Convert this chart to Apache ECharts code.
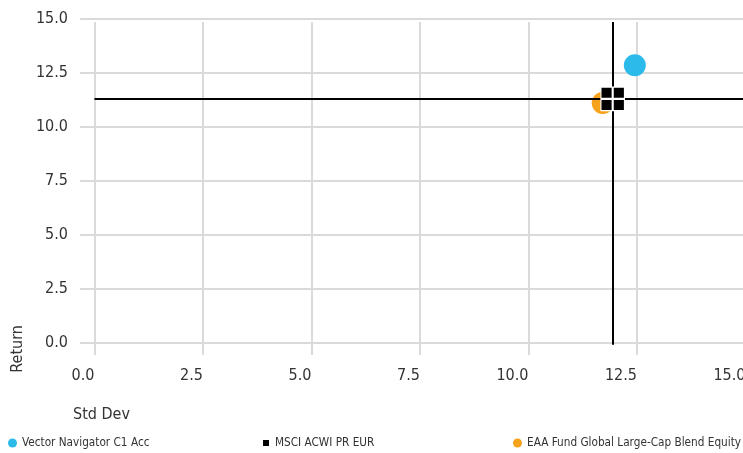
<!DOCTYPE html>
<html>
<head>
<meta charset="utf-8">
<script src="https://cdn.jsdelivr.net/npm/echarts@6/dist/echarts.min.js"></script>
<style>
html,body{margin:0;padding:0;background:#fff;}
#chart{width:743px;height:453px;}
</style>
</head>
<body>
<div id="chart"></div>
<script>
const seriesNames = ['Vector Navigator C1 Acc', 'MSCI ACWI PR EUR', 'EAA Fund Global Large-Cap Blend Equity'];
const stdDev = [12.45, 11.94, 11.71];
const returns = [12.86, 11.30, 11.11];
const seriesColors = ['#2BBAEA', '#000000', '#F7A21B'];
const xTickValues = [0, 2.5, 5, 7.5, 10, 12.5, 15];
const yTickValues = [0, 2.5, 5, 7.5, 10, 12.5, 15];

const FONT = '"DejaVu Sans Condensed", "Liberation Sans Narrow", sans-serif';
const TXT = '#333333';
const GRIDC = '#dadada';

const chart = echarts.init(document.getElementById('chart'), null, {renderer: 'canvas'});

const benchSymbol = 'path://M0,0H11V11H0Z M12,0H23V11H12Z M0,12H11V23H0Z M12,12H23V23H12Z';

const option = {
  backgroundColor: '#fff',
  animation: false,
  textStyle: {fontFamily: FONT},
  grid: {left: 80, right: -2.5, top: 19, bottom: 98, containLabel: false, outerBoundsMode: 'none'},
  xAxis: {
    type: 'value', min: -0.334, max: 15,
    name: 'Std Dev', nameLocation: 'start', nameGap: 7,
    nameTextStyle: {color: TXT, fontSize: 16, fontFamily: FONT, align: 'left', verticalAlign: 'top', padding: [52, 0, 0, 0]},
    axisLine: {show: false, onZero: false},
    axisTick: {show: true, inside: true, length: 333, customValues: xTickValues, lineStyle: {color: GRIDC, width: 2}},
    splitLine: {show: false},
    axisLabel: {color: TXT, fontSize: 16, fontFamily: FONT, margin: 13, align: 'right', customValues: xTickValues,
      formatter: v => v.toFixed(1)}
  },
  yAxis: {
    type: 'value', min: -0.570, max: 15,
    name: 'Return', nameLocation: 'start', nameGap: -30, nameRotate: 90,
    nameTextStyle: {color: TXT, fontSize: 16, fontFamily: FONT, align: 'right', verticalAlign: 'bottom', padding: [0, 0, 54, 0]},
    axisLine: {show: false, onZero: false},
    axisTick: {show: true, inside: true, length: 670, customValues: yTickValues, lineStyle: {color: GRIDC, width: 2}},
    splitLine: {show: false},
    axisLabel: {color: TXT, fontSize: 16, fontFamily: FONT, margin: 12, customValues: yTickValues,
      formatter: v => v.toFixed(1)}
  },
  legend: [
    {left: 8, top: 437, padding: 0, itemWidth: 9, itemHeight: 9, selectedMode: false,
      textStyle: {color: TXT, fontSize: 11.7, fontFamily: FONT},
      data: [{name: seriesNames[0], icon: 'circle'}]},
    {left: 261, top: 437, padding: 0, itemWidth: 8, itemHeight: 8, selectedMode: false,
      textStyle: {color: TXT, fontSize: 11.7, fontFamily: FONT},
      data: [{name: seriesNames[1], icon: 'rect'}]},
    {left: 513, top: 437, padding: 0, itemWidth: 9, itemHeight: 9, selectedMode: false,
      textStyle: {color: TXT, fontSize: 11.7, fontFamily: FONT},
      data: [{name: seriesNames[2], icon: 'circle'}]}
  ],
  series: [
    {
      name: seriesNames[2], type: 'scatter', z: 1, symbol: 'circle', symbolSize: 22,
      itemStyle: {color: seriesColors[2], opacity: 1},
      data: [[stdDev[2], returns[2]]]
    },
    {
      name: seriesNames[1], type: 'scatter', z: 5, symbol: benchSymbol, symbolSize: 23.5,
      itemStyle: {color: seriesColors[1], opacity: 1, borderColor: '#ffffff', borderWidth: 1.1},
      data: [[stdDev[1], returns[1]]],
      markLine: {
        silent: true, symbol: 'none', z: 3, animation: false,
        label: {show: false},
        lineStyle: {color: '#000', width: 2, type: 'solid'},
        emphasis: {disabled: true},
        data: [
          [{coord: [stdDev[1], -0.1]}, {coord: [stdDev[1], 14.86]}],
          [{coord: [0, returns[1]]}, {coord: [15, returns[1]]}]
        ]
      }
    },
    {
      name: seriesNames[0], type: 'scatter', z: 4, symbol: 'circle', symbolSize: 22,
      itemStyle: {color: seriesColors[0], opacity: 1},
      data: [[stdDev[0], returns[0]]]
    }
  ]
};
chart.setOption(option);
</script>
</body>
</html>
